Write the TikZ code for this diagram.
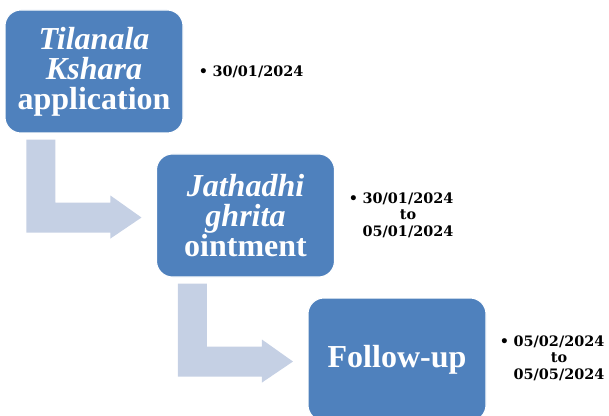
\documentclass[tikz,border=0pt]{standalone}
\usepackage{fontspec}
\setmainfont{Liberation Serif}
\newfontfamily\datefont{DejaVu Serif}
\definecolor{boxblue}{RGB}{79,129,189}
\definecolor{arrowgray}{RGB}{197,208,228}
\begin{document}
\begin{tikzpicture}[x=0.75pt,y=-0.75pt,
  stagebox/.style={fill=boxblue,draw=white,line width=0.8pt,rounded corners=12pt,
    minimum width=133.5pt,minimum height=92.25pt,inner sep=0pt,align=center,
    text=white,font=\fontsize{24}{22.5}\selectfont\bfseries},
  datelabel/.style={align=center,inner sep=0pt,font=\datefont\fontsize{10.8}{12.4}\selectfont\bfseries},
  bentarrow/.style={fill=arrowgray,draw=none}]
\useasboundingbox (0,0) rectangle (609,416);
\clip (0,0) rectangle (609,416);
\node[stagebox] (b1) at (94,71.5) {\textit{Tilanala}\\\textit{Kshara}\\application};
\node[stagebox] (b2) at (245.5,215.5) {\textit{Jathadhi}\\\textit{ghrita}\\ointment};
\node[stagebox] (b3) at (397,359.5) {Follow-up};
\begin{scope}[shift={(b1.south west)}]
  \fill[bentarrow] (22,6) -- (51,6) -- (51,69) -- (106,69) -- (106,62) -- (137,84)
    -- (106,105) -- (106,99) -- (22,99) -- cycle;
\end{scope}
\begin{scope}[shift={(b2.south west)}]
  \fill[bentarrow] (22,6) -- (51,6) -- (51,69) -- (106,69) -- (106,62) -- (137,84)
    -- (106,105) -- (106,99) -- (22,99) -- cycle;
\end{scope}
\node[datelabel] (d1) at (258,72) {\llap{\textbullet\hspace{3.5pt}}30/01/2024};
\node[datelabel] (d2) at (408,215) {\llap{\textbullet\hspace{3.5pt}}30/01/2024\\to\\05/01/2024};
\node[datelabel] (d3) at (559,358) {\llap{\textbullet\hspace{3.5pt}}05/02/2024\\to\\05/05/2024};
\end{tikzpicture}
\end{document}
